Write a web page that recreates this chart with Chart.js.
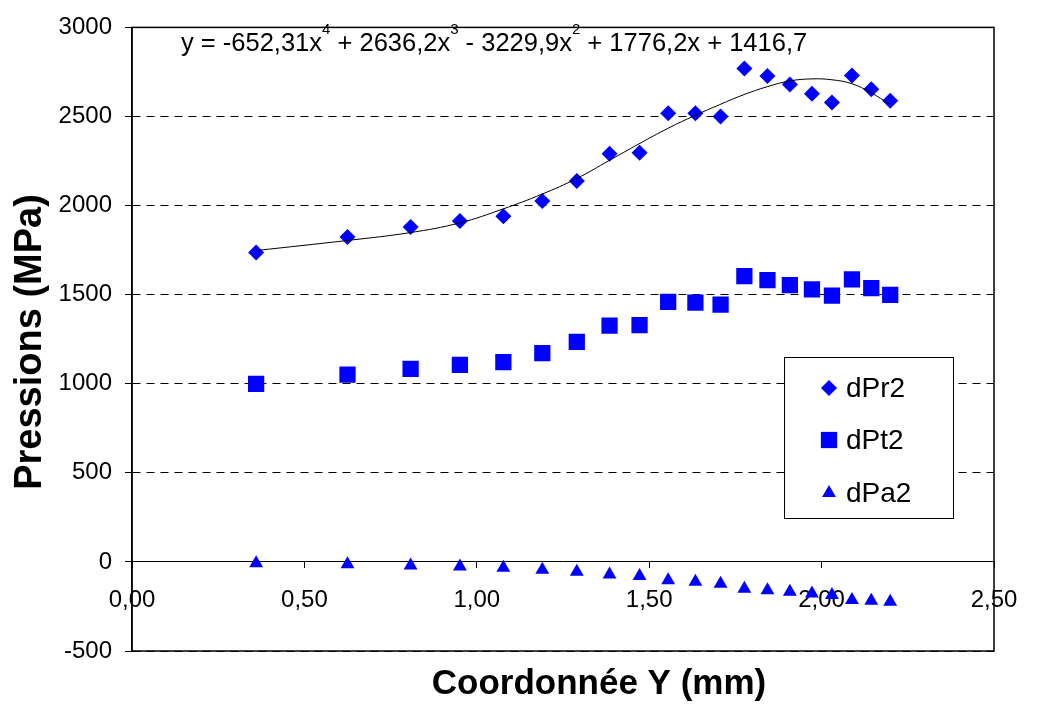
<!DOCTYPE html>
<html>
<head>
<meta charset="utf-8">
<script src="https://cdn.jsdelivr.net/npm/chart.js@4/dist/chart.umd.min.js"></script>
<style>
  body { margin: 0; background: #fff; }
  #wrap { width: 1040px; height: 705px; }
</style>
</head>
<body>
<div id="wrap"><canvas id="chart" width="1040" height="705"></canvas></div>
<script>
// Données
const coordY = [0.36, 0.625, 0.808, 0.951, 1.077, 1.19, 1.29, 1.385, 1.472, 1.555, 1.634, 1.707, 1.776, 1.843, 1.908, 1.972, 2.03, 2.088, 2.144, 2.199];
const dPr2 = [1736, 1824, 1880, 1914, 1940, 2025, 2138, 2291, 2297, 2518, 2518, 2500, 2769, 2727, 2680, 2627, 2579, 2730, 2653, 2588];
const dPt2 = [999, 1051, 1084, 1106, 1121, 1172, 1235, 1326, 1329, 1459, 1455, 1444, 1604, 1582, 1553, 1529, 1495, 1586, 1536, 1499];
const dPa2 = [-8, -13, -20, -26, -33, -44, -55, -70, -79, -103, -111, -122, -150, -159, -168, -177, -186, -214, -218, -223];

// Courbe de tendance (polynôme d'ordre 4)
const trendX = [0.362, 0.624, 0.806, 0.951, 1.076, 1.189, 1.291, 1.383, 1.47, 1.555, 1.633, 1.705, 1.775, 1.842, 1.909, 1.972, 2.03, 2.088, 2.143, 2.199];
const trendY = [1748, 1804, 1848, 1903, 1981, 2064, 2153, 2252, 2346, 2434, 2506, 2567, 2623, 2667, 2700, 2711, 2706, 2684, 2634, 2567];

const seriesNames = ["dPr2", "dPt2", "dPa2"];
const equationParts = [["y = -652,31x", "4"], [" + 2636,2x", "3"], [" - 3229,9x", "2"], [" + 1776,2x + 1416,7", ""]];

const BLUE = "#0000ff";
const FONT = "'Liberation Sans', Arial, sans-serif";

function toPoints(xs, ys) {
  return xs.map((x, i) => ({ x: x, y: ys[i] }));
}

function drawMarker(ctx, style, x, y, r) {
  ctx.beginPath();
  if (style === "rectRot") {
    ctx.moveTo(x, y - r); ctx.lineTo(x + r, y); ctx.lineTo(x, y + r); ctx.lineTo(x - r, y);
  } else if (style === "rect") {
    const s = r * Math.SQRT1_2;
    ctx.rect(x - s, y - s, 2 * s, 2 * s);
  } else {
    ctx.moveTo(x, y - r);
    ctx.lineTo(x + r * 0.866, y + r / 2);
    ctx.lineTo(x - r * 0.866, y + r / 2);
  }
  ctx.closePath();
  ctx.fillStyle = BLUE;
  ctx.fill();
}

// Cadre, légende, équation et titres des axes
const decorPlugin = {
  id: "decor",
  afterDraw(chart) {
    const ctx = chart.ctx;
    const a = chart.chartArea;
    ctx.save();

    // cadre de la zone de tracé
    ctx.strokeStyle = "#000";
    ctx.lineWidth = 1.5;
    ctx.strokeRect(a.left, a.top, a.right - a.left, a.bottom - a.top);

    // légende
    ctx.fillStyle = "#fff";
    ctx.fillRect(784, 357, 169, 161);
    ctx.lineWidth = 1;
    ctx.strokeStyle = "#000";
    ctx.strokeRect(784.5, 357.5, 169, 161);
    const legendRows = [388, 440, 493];
    chart.data.datasets.slice(1).forEach((ds, i) => {
      drawMarker(ctx, ds.pointStyle, 829, legendRows[i], ds.pointRadius);
      ctx.fillStyle = "#000";
      ctx.font = "28px " + FONT;
      ctx.textBaseline = "middle";
      ctx.textAlign = "left";
      ctx.fillText(ds.label, 846, legendRows[i] + 1);
    });

    // équation de la courbe de tendance
    let x = 181;
    ctx.textBaseline = "alphabetic";
    ctx.fillStyle = "#000";
    equationParts.forEach(([txt, sup]) => {
      ctx.font = "25.5px " + FONT;
      ctx.fillText(txt, x, 51);
      x += ctx.measureText(txt).width;
      if (sup) {
        ctx.font = "15px " + FONT;
        ctx.fillText(sup, x, 34);
        x += ctx.measureText(sup).width;
      }
    });

    // titres des axes
    ctx.font = "bold 35px " + FONT;
    ctx.textAlign = "center";
    ctx.fillText("Coordonnée Y (mm)", 599, 694);
    ctx.translate(41, 342);
    ctx.rotate(-Math.PI / 2);
    ctx.font = "bold 38px " + FONT;
    ctx.fillText("Pressions (MPa)", 0, 0);

    ctx.restore();
  },
};

new Chart(document.getElementById("chart"), {
  type: "scatter",
  data: {
    datasets: [
      {
        label: "tendance",
        data: toPoints(trendX, trendY),
        showLine: true,
        borderColor: "#000",
        borderWidth: 1,
        pointRadius: 0,
        tension: 0.4,
      },
      {
        label: seriesNames[0],
        data: toPoints(coordY, dPr2),
        pointStyle: "rectRot",
        pointRadius: 8,
        backgroundColor: BLUE,
        borderColor: BLUE,
        borderWidth: 0,
      },
      {
        label: seriesNames[1],
        data: toPoints(coordY, dPt2),
        pointStyle: "rect",
        pointRadius: 11.5,
        backgroundColor: BLUE,
        borderColor: BLUE,
        borderWidth: 0,
      },
      {
        label: seriesNames[2],
        data: toPoints(coordY, dPa2),
        pointStyle: "triangle",
        pointRadius: 8,
        backgroundColor: BLUE,
        borderColor: BLUE,
        borderWidth: 0,
      },
    ],
  },
  options: {
    responsive: false,
    animation: false,
    layout: { padding: { left: 0, top: 19, right: 46, bottom: 54 } },
    plugins: {
      legend: { display: false },
      tooltip: { enabled: false },
    },
    scales: {
      x: {
        type: "linear",
        position: { y: 0 },
        min: 0,
        max: 2.5,
        ticks: {
          stepSize: 0.5,
          color: "#000",
          font: { family: FONT, size: 24 },
          padding: 18,
          maxRotation: 0,
          callback: (v) => v.toFixed(2).replace(".", ","),
        },
        grid: {
          drawOnChartArea: false,
          drawTicks: true,
          tickLength: 6,
          tickColor: "#000",
        },
        border: { display: true, color: "#000", width: 1 },
      },
      y: {
        min: -500,
        max: 3000,
        afterFit: (scale) => { scale.width = 132; },
        ticks: {
          stepSize: 500,
          color: "#000",
          font: { family: FONT, size: 24 },
          padding: 13,
          callback: (v) => String(v),
        },
        grid: {
          color: "#000",
          lineWidth: 1,
          tickLength: 7,
          tickColor: "#000",
          tickBorderDash: [],
        },
        border: { display: true, color: "#000", width: 1.5, dash: [8, 6] },
      },
    },
  },
  plugins: [decorPlugin],
});
</script>
</body>
</html>
